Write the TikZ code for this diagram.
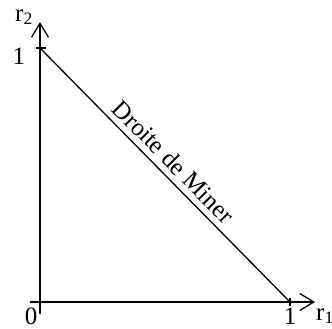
\documentclass[tikz,border=0pt]{standalone}
\usepackage{fontspec}
\setmainfont{Liberation Serif}
\usetikzlibrary{arrows.meta}

\begin{document}
\begin{tikzpicture}[
  x=250pt, y=254pt,
  axis/.style={line width=1.3pt, -{Straight Barb[length=14pt,width=17pt,line width=1.3pt]}},
  tick/.style={line width=1.3pt},
  lbl/.style={font=\fontsize{25}{27}\selectfont, inner sep=0pt}
]
  \useasboundingbox (-0.16,-0.1063) rectangle (1.168,1.189);

  \coordinate (o) at (0,0);
  \coordinate (xs) at (-0.04,0);
  \coordinate (xe) at (1.1,0);
  \coordinate (ys) at (0,-0.047);
  \coordinate (ye) at (0,1.102);
  \coordinate (a) at (1,0);
  \coordinate (b) at (0,1);

  \draw[axis] (xs) -- (xe);
  \draw[axis] (ys) -- (ye);
  \draw[tick] ([yshift=-4pt]a) -- ([yshift=4pt]a);
  \draw[tick] ([xshift=-4pt]b) -- ([xshift=6pt]b);

  \node[lbl] (zero) at (-9pt,-14pt) {0};
  \node[lbl] (one1) at (250pt,-14pt) {1};
  \node[lbl] (one2) at (-21pt,246pt) {1};
  \node[lbl] (r1) at (285pt,-14pt) {r\textsubscript{1}};
  \node[lbl] (r2) at (-16pt,285pt) {r\textsubscript{2}};

  \draw[tick] (b) -- node[lbl, sloped, above=6pt, pos=0.49] (miner) {Droite de Miner} (a);
\end{tikzpicture}
\end{document}
